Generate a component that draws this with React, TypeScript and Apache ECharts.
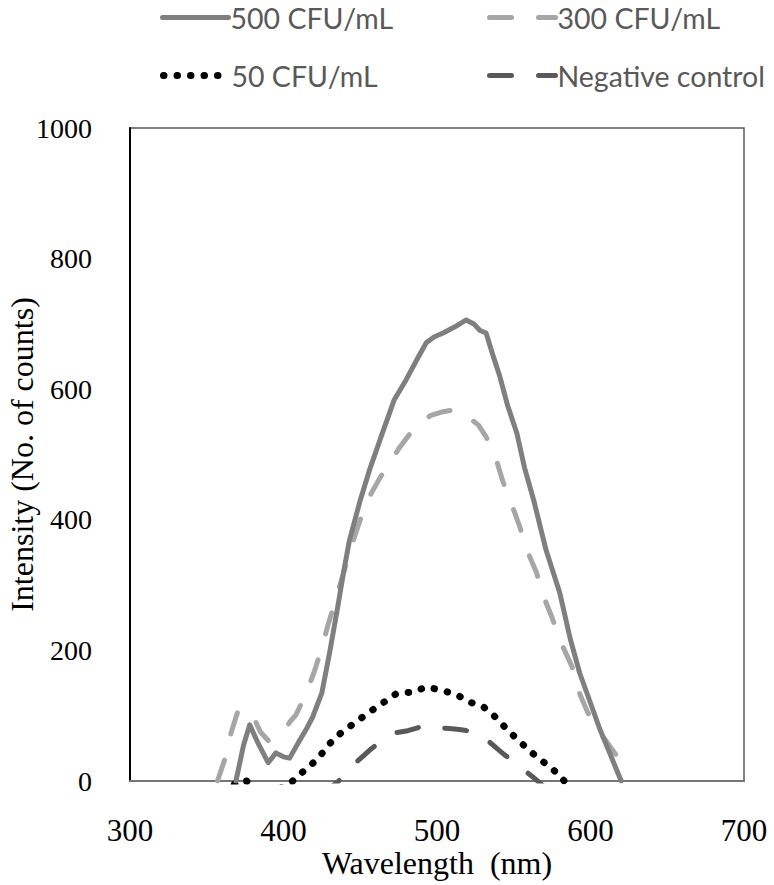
import React, { useEffect, useRef } from "react";
import * as echarts from "echarts";

// ---- data ----
const xTicks = [300, 400, 500, 600, 700];
const yTicks = [0, 200, 400, 600, 800, 1000];

const names = ["500 CFU/mL", "300 CFU/mL", "50 CFU/mL", "Negative control"];

const wl500 = [369, 374, 378, 383, 390, 395, 400, 404, 410, 415, 419, 425, 430, 435, 439, 443, 450, 456, 464, 472, 480, 488, 493, 498, 504, 512, 519, 524, 528, 532, 536, 541, 546, 552, 557, 563, 571, 580, 587, 593, 597, 606, 613, 620];
const int500 = [0, 55, 86, 60, 28, 43, 37, 35, 60, 80, 98, 135, 196, 262, 318, 369, 430, 476, 530, 583, 615, 650, 671, 680, 686, 696, 706, 700, 690, 686, 655, 619, 575, 533, 480, 430, 354, 288, 216, 165, 139, 80, 40, 0];

const wl300 = [357, 362, 366, 370, 375, 379, 385, 390, 395, 399, 404, 408, 415, 420, 425, 429, 434, 439, 445, 450, 457, 463, 470, 476, 486, 496, 503, 510, 516, 521, 527, 532, 538, 543, 548, 554, 558, 565, 569, 575, 580, 588, 590, 598, 604, 610, 615, 620, 624, 629];
const int300 = [0, 35, 75, 105, 110, 105, 75, 62, 68, 73, 90, 101, 135, 167, 204, 239, 277, 318, 365, 400, 440, 465, 490, 512, 543, 560, 565, 568, 565, 556, 545, 527, 497, 458, 428, 389, 357, 318, 285, 250, 216, 175, 150, 106, 80, 62, 45, 30, 22, 15];

const wl50 = [362, 370, 376, 385, 395, 406, 414, 422, 430, 438, 447, 455, 465, 473, 476, 484, 493, 503, 513, 521, 530, 539, 546, 554, 563, 571, 580, 586];
const int50 = [-20, 0, 0, -20, -15, 0, 17, 33, 57, 75, 90, 104, 120, 133, 135, 136, 144, 139, 132, 121, 114, 96, 78, 60, 41, 26, 9, -10];

const wlNeg = [425, 436, 442, 448, 456, 464, 471, 476, 481, 488, 495, 500, 504, 510, 517, 522, 527, 533, 539, 544, 550, 556, 562, 568, 575];
const intNeg = [-20, 0, 15, 30, 47, 62, 73, 75, 77, 82, 86, 83, 81, 80, 78, 76, 73, 62, 50, 40, 30, 18, 7, -5, -20];

const colors = ["#7f7f7f", "#a6a6a6", "#000000", "#595959"];
const widths = [5, 5, 7, 5];
const dashes: any[] = ["solid", [22, 27], [0.5, 13], [22, 27]];

const pair = (xs: number[], ys: number[]) => xs.map((x, i) => [x, ys[i]]);

export default function App() {
  const ref = useRef<HTMLDivElement>(null);
  useEffect(() => {
    if (!ref.current) return;
    const chart = echarts.init(ref.current, undefined, { renderer: "svg" });
    const datasets = [pair(wl500, int500), pair(wl300, int300), pair(wl50, int50), pair(wlNeg, intNeg)];
    const legendPos = [
      { left: 155, top: -2 },
      { left: 482, top: -2 },
      { left: 155, top: 56 },
      { left: 482, top: 56 },
    ];
    const legends = names.map((n, i) => ({
      data: [n],
      left: legendPos[i].left,
      top: legendPos[i].top,
      itemWidth: 66,
      itemHeight: 26,
      itemGap: 0,
      textStyle: { fontFamily: "Lato", fontSize: 28.5, color: "#595959", padding: [0, 0, 0, -3] },
      itemStyle: { opacity: 0 },
      lineStyle: { width: widths[i], type: dashes[i], cap: "round", color: colors[i] },
      selectedMode: false,
    }));
    chart.setOption({
      animation: false,
      legend: legends,
      grid: {
        left: 130, right: 30, top: 128, bottom: 104, show: true,
        borderColor: "#595959", borderWidth: 1.5, outerBoundsMode: "none", containLabel: false,
      },
      xAxis: {
        type: "value",
        min: xTicks[0],
        max: xTicks[xTicks.length - 1],
        interval: 100,
        name: "Wavelength  (nm)",
        nameLocation: "middle",
        nameGap: 66,
        nameMoveOverlap: false,
        nameTextStyle: { fontFamily: "Liberation Serif", fontSize: 32, color: "#000" },
        axisLine: { show: true, lineStyle: { color: "#767676", width: 2 } },
        axisTick: { show: false },
        splitLine: { show: false },
        axisLabel: { fontFamily: "Liberation Serif", fontSize: 31, color: "#000", margin: 34 },
      },
      yAxis: {
        type: "value",
        min: yTicks[0],
        max: yTicks[yTicks.length - 1],
        interval: 200,
        name: "Intensity (No. of counts)",
        nameLocation: "middle",
        nameGap: 92,
        nameMoveOverlap: false,
        nameRotate: 90,
        nameTextStyle: { fontFamily: "Liberation Serif", fontSize: 32, color: "#000" },
        axisLine: { show: true, lineStyle: { color: "#000", width: 2 } },
        axisTick: { show: false },
        splitLine: { show: false },
        axisLabel: { fontFamily: "Liberation Serif", fontSize: 28, color: "#000", margin: 38, formatter: (v: number) => String(v) },
      },
      series: names.map((n, i) => ({
        name: n,
        type: "line",
        data: datasets[i],
        symbol: "none",
        clip: true,
        z: 4 - i,
        lineStyle: { color: colors[i], width: widths[i], type: dashes[i], cap: "round", join: "round" },
        itemStyle: { color: colors[i] },
      })),
    });
    return () => chart.dispose();
  }, []);
  return <div ref={ref} style={{ position: "absolute", left: 0, top: 0, width: 774, height: 885 }} />;
}
